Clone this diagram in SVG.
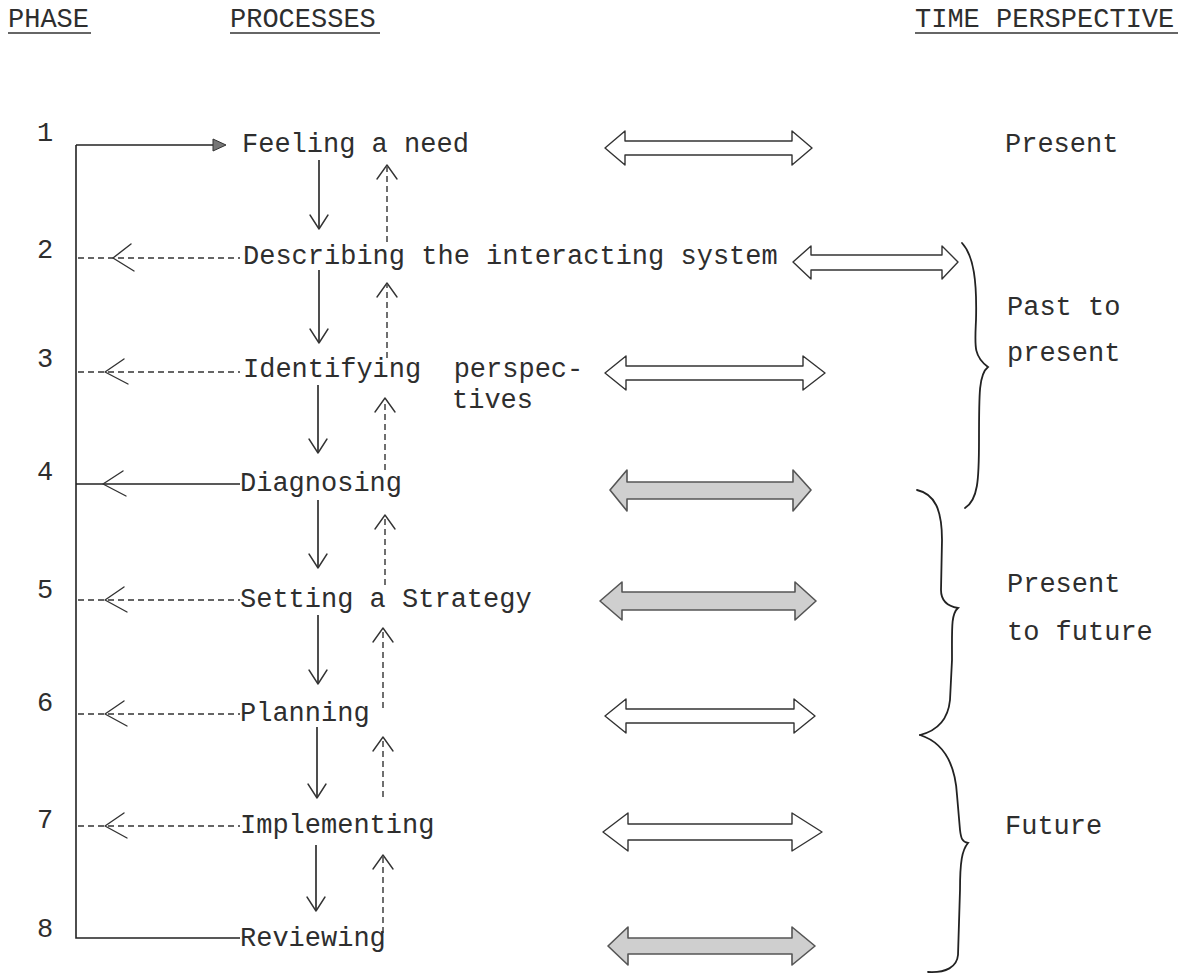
<svg xmlns="http://www.w3.org/2000/svg" width="1189" height="978" viewBox="0 0 1189 978">
<style>
text{font-family:"Liberation Mono","DejaVu Sans Mono",monospace;font-size:27px;fill:#2e2e2e}
.ln{stroke:#222;stroke-width:1.6;fill:none}
.ds{stroke:#333;stroke-width:1.4;fill:none;stroke-dasharray:6 4}
.hd{stroke:#333;stroke-width:1.4;fill:none;stroke-linecap:round;stroke-linejoin:round}
.dbl{stroke:#333;stroke-width:1.4;fill:#fff;stroke-linejoin:round}
.grey{stroke:#555;stroke-width:1.6;fill:#cfcfcf;stroke-linejoin:round}
.br{stroke:#222;stroke-width:1.8;fill:none;stroke-linecap:round}
.ul{stroke:#333;stroke-width:1.6}
</style>
<rect width="1189" height="978" fill="#fff"/>
<g id="headers">
<text x="8" y="27">PHASE</text>
<line class="ul" x1="8" y1="33" x2="91" y2="33"/>
<text x="230" y="27">PROCESSES</text>
<line class="ul" x1="230" y1="33" x2="380" y2="33"/>
<text x="915" y="27">TIME PERSPECTIVE</text>
<line class="ul" x1="915" y1="33" x2="1178" y2="33"/>
</g>
<g id="phase-numbers">
<text x="37" y="141">1</text>
<text x="37" y="258">2</text>
<text x="37" y="367">3</text>
<text x="37" y="480">4</text>
<text x="37" y="598">5</text>
<text x="37" y="711">6</text>
<text x="37" y="828">7</text>
<text x="37" y="937">8</text>
</g>
<g id="connectors">
<path class="ln" d="M76,145 V938 H240"/>
<path class="ln" d="M76,145 H214"/>
<path d="M213,139 L226,145 L213,151 Z" fill="#777" stroke="#333" stroke-width="1"/>
<path class="ds" d="M78,258 H240"/>
<path class="hd" d="M131,244 L113,258 L134,271"/>
<path class="ds" d="M78,372 H240"/>
<path class="hd" d="M124,359 L105,372 L128,384"/>
<path class="ln" d="M76,484 H240"/>
<path class="hd" d="M123,471 L103,484 L126,496"/>
<path class="ds" d="M78,600 H240"/>
<path class="hd" d="M124,587 L105,600 L127,612"/>
<path class="ds" d="M78,714 H240"/>
<path class="hd" d="M124,701 L105,714 L127,726"/>
<path class="ds" d="M78,826 H240"/>
<path class="hd" d="M124,813 L105,826 L127,838"/>
<path class="ln" d="M319,160 V228"/><path class="hd" d="M310,215 L319,229 L328,215"/>
<path class="ln" d="M319,270 V342"/><path class="hd" d="M310,329 L319,343 L328,329"/>
<path class="ln" d="M318,385 V452"/><path class="hd" d="M309,439 L318,453 L327,439"/>
<path class="ln" d="M318,500 V567"/><path class="hd" d="M309,554 L318,568 L327,554"/>
<path class="ln" d="M318,615 V683"/><path class="hd" d="M309,670 L318,684 L327,670"/>
<path class="ln" d="M317,727 V797"/><path class="hd" d="M308,784 L317,798 L326,784"/>
<path class="ln" d="M316,845 V910"/><path class="hd" d="M307,897 L316,911 L325,897"/>
<path class="ds" d="M387,242 V167"/><path class="hd" d="M377,179 L387,165 L397,179"/>
<path class="ds" d="M387,358 V285"/><path class="hd" d="M377,297 L387,283 L397,297"/>
<path class="ds" d="M385,470 V400"/><path class="hd" d="M375,412 L385,398 L395,412"/>
<path class="ds" d="M385,585 V517"/><path class="hd" d="M375,529 L385,515 L395,529"/>
<path class="ds" d="M383,708 V630"/><path class="hd" d="M373,642 L383,628 L393,642"/>
<path class="ds" d="M383,797 V739"/><path class="hd" d="M373,751 L383,737 L393,751"/>
<path class="ds" d="M383,933 V857"/><path class="hd" d="M373,869 L383,855 L393,869"/>
</g>
<g id="node-1"><text x="242" y="152">Feeling a need</text></g>
<g id="node-2"><text x="243" y="264">Describing the interacting system</text></g>
<g id="node-3"><text x="243" y="377">Identifying&#160; perspec-</text><text x="452" y="408">tives</text></g>
<g id="node-4"><text x="240" y="491">Diagnosing</text></g>
<g id="node-5"><text x="240" y="607">Setting a Strategy</text></g>
<g id="node-6"><text x="240" y="721">Planning</text></g>
<g id="node-7"><text x="240" y="833">Implementing</text></g>
<g id="node-8"><text x="240" y="946">Reviewing</text></g>
<g id="time-arrows">
<path class="dbl" d="M605,148 L625,131 L625,141 L792,141 L792,131 L812,148 L792,165 L792,155 L625,155 L625,165 Z"/>
<path class="dbl" d="M793,262 L811,246 L811,255 L942,255 L942,246 L958,262 L942,279 L942,270 L811,270 L811,279 Z"/>
<path class="dbl" d="M605,373 L626,356 L626,366 L803,366 L803,356 L825,373 L803,390 L803,380 L626,380 L626,390 Z"/>
<path class="grey" d="M610,490 L627,470 L627,482 L793,482 L793,470 L811,490 L793,511 L793,499 L627,499 L627,511 Z"/>
<path class="grey" d="M600,601 L622,582 L622,592 L795,592 L795,582 L816,601 L795,620 L795,610 L622,610 L622,620 Z"/>
<path class="dbl" d="M605,716 L626,699 L626,709 L794,709 L794,699 L815,716 L794,733 L794,723 L626,723 L626,733 Z"/>
<path class="dbl" d="M603,832 L628,813 L628,824 L792,824 L792,813 L822,832 L792,851 L792,840 L628,840 L628,851 Z"/>
<path class="grey" d="M608,946 L628,927 L628,938 L792,938 L792,927 L815,946 L792,965 L792,954 L628,954 L628,965 Z"/>
</g>
<g id="braces">
<path class="br" d="M962,243 C974,256 977,282 976,320 C975,345 973,356 988,367 C979,374 979,392 979,440 C979,480 978,500 965,508"/>
<path class="br" d="M917,490 C935,494 942,510 942,540 L941,590 C941,600 946,606 958,608 C951,614 952,628 952,660 L950,700 C948,720 936,731 920,735"/>
<path class="br" d="M920,735 C942,742 955,762 957,795 L960,830 C961,838 962,842 968,843 C962,850 960,862 960,890 L958,955 C957,967 946,973 928,972"/>
</g>
<g id="time-labels">
<text x="1005" y="152">Present</text>
<text x="1007" y="315">Past to</text>
<text x="1007" y="361">present</text>
<text x="1007" y="592">Present</text>
<text x="1007" y="640">to future</text>
<text x="1005" y="834">Future</text>
</g>
</svg>
